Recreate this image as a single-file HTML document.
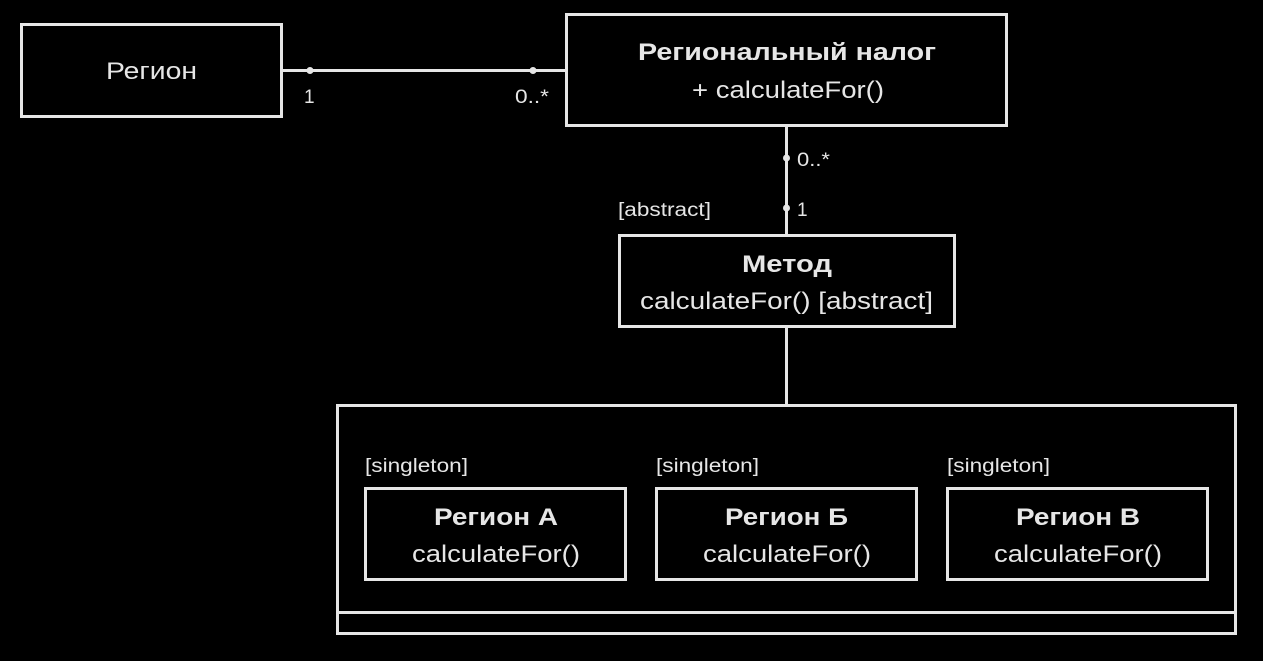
<!DOCTYPE html>
<html><head><meta charset="utf-8"><style>
html,body{margin:0;padding:0;background:#000;}
svg{display:block}
text{font-family:"Liberation Sans","DejaVu Sans",sans-serif;fill:#e6e6e6}
.b{font-weight:bold;font-size:24px}
.n{font-size:24px}
.s{font-size:19px}
</style></head><body>
<svg width="1263" height="661" viewBox="0 0 1263 661" xmlns="http://www.w3.org/2000/svg">
<g fill="none" stroke="#e6e6e6" stroke-width="3">
<rect x="21.5" y="24.5" width="260" height="92"/>
<rect x="566.5" y="14.5" width="440" height="111"/>
<rect x="619.5" y="235.5" width="335" height="91"/>
<rect x="337.5" y="405.5" width="898" height="228"/>
<line x1="337" y1="612.5" x2="1236" y2="612.5"/>
<rect x="365.5" y="488.5" width="260" height="91"/>
<rect x="656.5" y="488.5" width="260" height="91"/>
<rect x="947.5" y="488.5" width="260" height="91"/>
<line x1="282" y1="70.5" x2="566" y2="70.5"/>
<line x1="786.5" y1="126" x2="786.5" y2="235"/>
<line x1="786.5" y1="327" x2="786.5" y2="405"/>
</g>
<g fill="#e6e6e6">
<circle cx="310" cy="70.5" r="3.5"/>
<circle cx="533" cy="70.5" r="3.5"/>
<circle cx="786.5" cy="158" r="3.5"/>
<circle cx="786.5" cy="208" r="3.5"/>
</g>
<g lengthAdjust="spacingAndGlyphs">
<text class="n" x="106" y="79" textLength="91" lengthAdjust="spacingAndGlyphs">Регион</text>
<text class="s" x="304" y="103">1</text>
<text class="s" x="515" y="103" textLength="34" lengthAdjust="spacingAndGlyphs">0..*</text>
<text class="b" x="638" y="60" textLength="298" lengthAdjust="spacingAndGlyphs">Региональный налог</text>
<text class="n" x="692" y="98" textLength="192" lengthAdjust="spacingAndGlyphs">+ calculateFor()</text>
<text class="s" x="797" y="166" textLength="33" lengthAdjust="spacingAndGlyphs">0..*</text>
<text class="s" x="797" y="216">1</text>
<text class="s" x="618" y="216" textLength="93" lengthAdjust="spacingAndGlyphs">[abstract]</text>
<text class="b" x="742" y="272" textLength="90" lengthAdjust="spacingAndGlyphs">Метод</text>
<text class="n" x="640" y="309" textLength="293" lengthAdjust="spacingAndGlyphs">calculateFor() [abstract]</text>
<text class="s" x="365" y="472" textLength="103" lengthAdjust="spacingAndGlyphs">[singleton]</text>
<text class="s" x="656" y="472" textLength="103" lengthAdjust="spacingAndGlyphs">[singleton]</text>
<text class="s" x="947" y="472" textLength="103" lengthAdjust="spacingAndGlyphs">[singleton]</text>
<text class="b" x="434" y="525" textLength="124" lengthAdjust="spacingAndGlyphs">Регион А</text>
<text class="n" x="412" y="562" textLength="168" lengthAdjust="spacingAndGlyphs">calculateFor()</text>
<text class="b" x="725" y="525" textLength="123" lengthAdjust="spacingAndGlyphs">Регион Б</text>
<text class="n" x="703" y="562" textLength="168" lengthAdjust="spacingAndGlyphs">calculateFor()</text>
<text class="b" x="1016" y="525" textLength="124" lengthAdjust="spacingAndGlyphs">Регион В</text>
<text class="n" x="994" y="562" textLength="168" lengthAdjust="spacingAndGlyphs">calculateFor()</text>
</g>
</svg>
</body></html>
